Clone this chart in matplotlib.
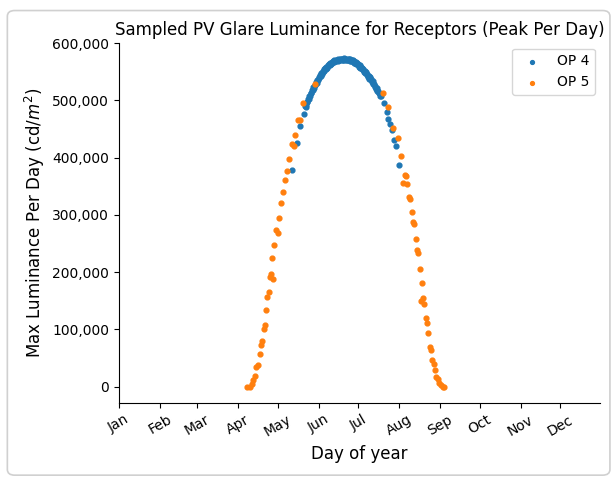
import matplotlib
matplotlib.use("Agg")
import matplotlib.pyplot as plt
from matplotlib.ticker import FuncFormatter
from matplotlib.patches import FancyBboxPatch

# day of year (0 = Jan 1) and peak luminance (thousands of cd/m2)
op4_days = [130.7, 134.5, 137.2, 140.1, 141.4,
            141, 142, 143, 144, 145, 146, 147, 148, 149, 150,
            151, 152, 153, 154, 155, 156, 157, 158, 159, 160,
            161, 162, 163, 164, 165, 166, 167, 168, 169, 170,
            171, 172, 173, 174, 175, 176, 177, 178, 179, 180,
            181, 182, 183, 184, 185, 186, 187, 188, 189, 190,
            191, 192, 193, 194, 195, 196, 197, 198,
            200.4, 202.5, 203.4, 204.8, 206.3, 208.4, 209.3, 212]
op4_vals = [378, 426, 455, 477, 488,
            490, 497, 502, 508, 513, 518, 523, 527, 532, 536,
            540, 544, 547, 551, 554, 556, 559, 561, 564, 565,
            567, 568, 570, 571, 571, 572, 573, 573, 573, 574,
            573, 573, 573, 572, 572, 571, 570, 568, 567, 565,
            563, 561, 559, 557, 555, 552, 549, 546, 543, 540,
            537, 533, 529, 525, 521, 517, 513, 508,
            496, 480, 468, 459, 448, 431, 421, 387]

# second, slightly lower row of OP 4 points that thickens the band near the peak
op4_band_days = [141.5, 142.5, 143.5, 144.5, 145.5, 146.5, 147.5, 148.5, 149.5, 150.5,
                 151.5, 152.5, 153.5, 154.5, 155.5, 156.5, 157.5, 158.5, 159.5, 160.5,
                 161.5, 162.5, 163.5, 164.5, 165.5, 166.5, 167.5, 168.5, 169.5, 170.5,
                 171.5, 172.5, 173.5, 174.5, 175.5, 176.5, 177.5, 178.5, 179.5, 180.5,
                 181.5, 182.5, 183.5, 184.5, 185.5, 186.5, 187.5, 188.5, 189.5, 190.5,
                 191.5, 192.5, 193.5, 194.5, 195.5, 196.5, 197.5]
op4_band_vals = [491, 497, 502, 508, 513, 518, 522, 527, 531, 535,
                 539, 543, 546, 549, 552, 555, 557, 560, 562, 564,
                 565, 567, 568, 569, 569, 570, 570, 571, 571, 571,
                 570, 570, 570, 569, 569, 568, 566, 565, 563, 561,
                 559, 557, 555, 553, 550, 547, 544, 541, 538, 535,
                 532, 528, 524, 520, 516, 512, 507]

op5_days = [97, 99, 100.5, 101.4, 102.6, 103.8, 105, 106.4, 107.3, 108.5,
            109.4, 110.3, 111.4, 112.3, 113.2, 114.4, 115.3, 116.8, 115.9, 117.6,
            119.1, 120.3, 121.2, 122.7, 124.1, 125.6, 127.1, 128.6, 130.9, 132.1,
            133.3, 135.1, 136.9, 139.2, 148.1,
            199.5, 203.4, 207, 211.3, 213.7, 216.4, 217.3, 215.2, 218.2, 219.3,
            220.2, 221.7, 222.6, 223.2, 224.7, 225.5, 226.1, 227.6, 229.1, 228.2,
            230, 231.1, 232.6, 233.2, 234.1, 235.3, 236.2, 237.1, 238.2, 239.1,
            240, 241.5, 242.4, 243.9, 246.2, 245.3]
op5_vals = [0, 0, 5, 12, 19, 34, 37, 56, 72, 79,
            101, 108, 134, 156, 165, 191, 197, 188, 224, 247,
            274, 268, 295, 321, 339, 361, 377, 398, 424, 420,
            439, 465, 465, 495, 529,
            512, 489, 451, 435, 403, 369, 367, 356, 353, 331,
            327, 305, 288, 284, 258, 239, 233, 206, 181, 149,
            154, 145, 120, 111, 94, 69, 63, 47, 40, 29,
            16, 13, 6, 2, 0, 0]

month_starts = [0, 31, 59, 90, 120, 151, 181, 212, 243, 273, 304, 334]
month_labels = ["Jan", "Feb", "Mar", "Apr", "May", "Jun",
                "Jul", "Aug", "Sep", "Oct", "Nov", "Dec"]

fig = plt.figure(figsize=(6.13, 4.79), dpi=100)
ax = fig.add_axes([0.194, 0.159, 0.785, 0.751])

ax.scatter(op4_days + op4_band_days, [v * 1000 for v in op4_vals + op4_band_vals],
           s=12, color="tab:blue", label="OP 4")
ax.scatter(op5_days, [v * 1000 for v in op5_vals], s=12, color="tab:orange", label="OP 5")

ax.set_xlim(0, 364)
ax.set_ylim(-28500, 600000)
ax.set_xticks(month_starts)
ax.set_xticklabels(month_labels, rotation=30)
ax.yaxis.set_major_formatter(FuncFormatter(lambda v, p: f"{int(v):,}"))
ax.tick_params(labelsize=10)

ax.spines["top"].set_visible(False)
ax.spines["right"].set_visible(False)

ax.set_title("Sampled PV Glare Luminance for Receptors (Peak Per Day)", fontsize=12)
ax.set_xlabel("Day of year", fontsize=12)
ax.set_ylabel("Max Luminance Per Day (cd/$m^2$)", fontsize=12)
ax.legend(loc="upper right", markerscale=0.8, borderaxespad=0.4)

# rounded border round the whole picture
border = FancyBboxPatch((0.012, 0.008), 0.983, 0.97, boxstyle="round,pad=0,rounding_size=0.012",
                        transform=fig.transFigure, facecolor="none", edgecolor="#d0d0d0", lw=1.2)
fig.patches.append(border)

fig.savefig("out.png", dpi=100)
